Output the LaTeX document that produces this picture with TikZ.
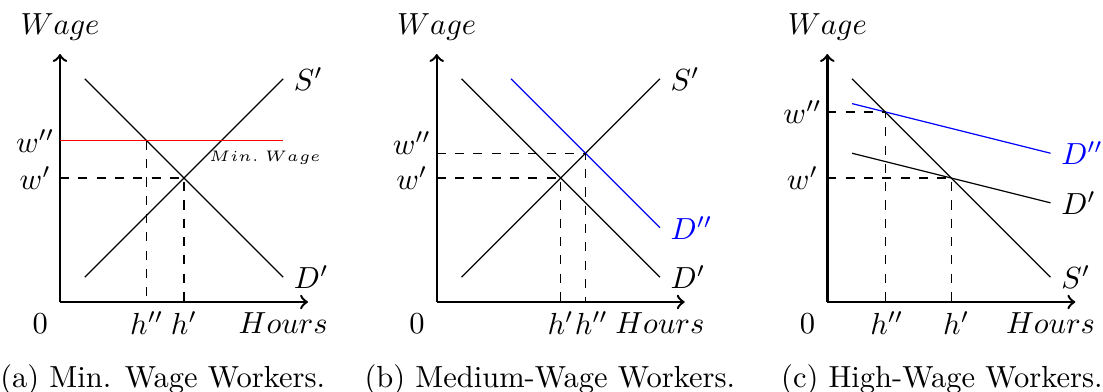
\documentclass[tikz,border=0pt]{standalone}
\usetikzlibrary{positioning,calc}

\begin{document}
\begin{tikzpicture}[
x=0.5716cm,y=0.5716cm,
axis/.style={->,thick},
guide/.style={dashed},
minline/.style={red},
newdemand/.style={blue},
caption/.style={font=\normalsize}]
\useasboundingbox (-1.21,-1.794) rectangle (21.028,6.089);
% (a) minimum wage workers
\begin{scope}
\coordinate (oa) at (0,0);
\coordinate (ya) at (0,5);
\coordinate (xa) at (5,0);
\draw[axis] (oa) -- (ya);
\draw[axis] (oa) -- (xa);
\node (wagea) at (0,5.55) {$Wage$};
\node (hoursa) at (4.5,-0.43) {$Hours$};
\node (zeroa) at (-0.4,-0.43) {$0$};
\draw (0.5,4.5) -- (4.5,0.5) node[right] (da) {$D'$};
\draw (0.5,0.5) -- (4.5,4.5) node[right] (sa) {$S'$};
\draw[minline] (0,3.25) -- (4.5,3.25);
\node[font=\fontsize{4.3}{5}\selectfont] (mina) at (4.13,2.91) {$Min.\ Wage$};
\draw[guide] (0,2.5) -| (2.5,0);
\draw[guide] (1.75,3.25) -- (1.75,0);
\node (w1a) at (-0.5,2.5) {$w'$};
\node (w2a) at (-0.5,3.25) {$w''$};
\node (h1a) at (2.5,-0.43) {$h'$};
\node (h2a) at (1.75,-0.43) {$h''$};
\node[caption] (capa) at (2.07,-1.57) {(a) Min. Wage Workers.};
\end{scope}
% (b) medium-wage workers
\begin{scope}[xshift=7.595*0.5716cm]
\coordinate (ob) at (0,0);
\coordinate (yb) at (0,5);
\coordinate (xb) at (5,0);
\draw[axis] (ob) -- (yb);
\draw[axis] (ob) -- (xb);
\node (wageb) at (0,5.55) {$Wage$};
\node (hoursb) at (4.5,-0.43) {$Hours$};
\node (zerob) at (-0.4,-0.43) {$0$};
\draw (0.5,4.5) -- (4.5,0.5) node[right] (db) {$D'$};
\draw (0.5,0.5) -- (4.5,4.5) node[right] (sb) {$S'$};
\draw[newdemand] (1.5,4.5) -- (4.5,1.5) node[right] (ddb) {$D''$};
\draw[guide] (0,2.5) -| (2.5,0);
\draw[guide] (0,3) -| (3,0);
\node (w1b) at (-0.5,2.5) {$w'$};
\node (w2b) at (-0.5,3.2) {$w''$};
\node (h1b) at (2.5,-0.43) {$h'$};
\node (h2b) at (3.12,-0.43) {$h''$};
\node[caption] (capb) at (2.28,-1.57) {(b) Medium-Wage Workers.};
\end{scope}
% (c) high-wage workers
\begin{scope}[xshift=15.47*0.5716cm]
\coordinate (oc) at (0,0);
\coordinate (yc) at (0,5);
\coordinate (xc) at (5,0);
\draw[axis] (oc) -- (yc);
\draw[axis] (oc) -- (xc);
\node (wagec) at (0,5.55) {$Wage$};
\node (hoursc) at (4.5,-0.43) {$Hours$};
\node (zeroc) at (-0.4,-0.43) {$0$};
\draw (0.5,4.5) -- (4.5,0.5) node[right] (sc) {$S'$};
\draw (0.5,3) -- (4.5,2) node[right] (dc) {$D'$};
\draw[newdemand] (0.5,4) -- (4.5,3) node[right] (ddc) {$D''$};
\draw[guide] (0,2.5) -| (2.5,0);
\draw[guide] (0,3.833) -| (1.167,0);
\node (w1c) at (-0.5,2.5) {$w'$};
\node (w2c) at (-0.5,3.833) {$w''$};
\node (h1c) at (2.6,-0.43) {$h'$};
\node (h2c) at (1.2,-0.43) {$h''$};
\node[caption] (capc) at (2.31,-1.57) {(c) High-Wage Workers.};
\end{scope}
\end{tikzpicture}
\end{document}
